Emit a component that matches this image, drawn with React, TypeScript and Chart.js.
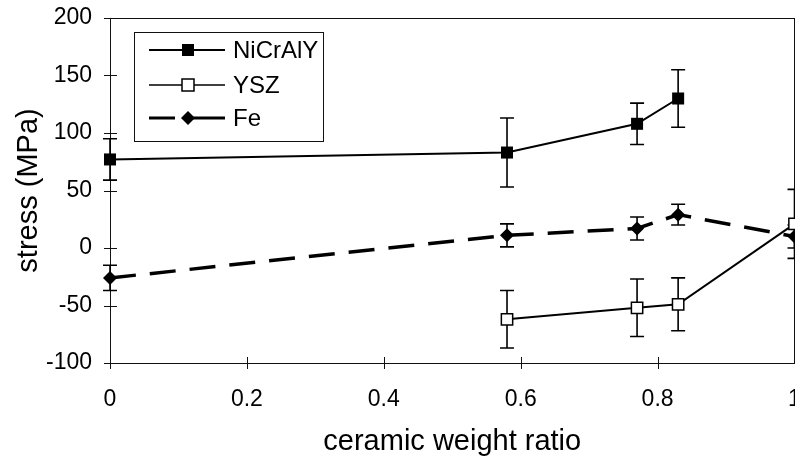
import React, { useEffect, useRef } from "react";
import { Chart, registerables } from "chart.js";

Chart.register(...registerables);

const FONT = "'Liberation Sans', Arial, sans-serif";

// Data
const niX = [0, 0.58, 0.77, 0.83];
const niY = [77, 83, 108, 130];
const niErr = [18, 30, 18, 25];

const yszX = [0.58, 0.77, 0.83, 1.0];
const yszY = [-62, -52, -49, 21];
const yszErr = [25, 25, 23, 30];

const feX = [0, 0.58, 0.77, 0.83, 1.0];
const feY = [-26, 11, 17, 29, 10];
const feErr = [11, 10, 10, 9, 10];

const seriesNames = ["NiCrAlY", "YSZ", "Fe"];
const xTickLabels = ["0", "0.2", "0.4", "0.6", "0.8", "1"];
const xTitle = "ceramic weight ratio";
const yTitle = "stress (MPa)";

const toPts = (xs: number[], ys: number[]) => xs.map((x, i) => ({ x, y: ys[i] }));

const errorBarPlugin = {
  id: "errorBars",
  beforeDatasetsDraw(chart: any) {
    const ctx = chart.ctx;
    const xs = chart.scales.x;
    const ys = chart.scales.y;
    ctx.save();
    ctx.strokeStyle = "#000";
    ctx.lineWidth = 1.6;
    chart.data.datasets.forEach((ds: any) => {
      const errs: number[] = ds.errors || [];
      ds.data.forEach((p: any, i: number) => {
        const e = errs[i];
        if (e == null) return;
        const px = xs.getPixelForValue(p.x);
        const top = ys.getPixelForValue(p.y + e);
        const bot = ys.getPixelForValue(p.y - e);
        ctx.beginPath();
        ctx.moveTo(px, top);
        ctx.lineTo(px, bot);
        ctx.moveTo(px - 7, top);
        ctx.lineTo(px + 7, top);
        ctx.moveTo(px - 7, bot);
        ctx.lineTo(px + 7, bot);
        ctx.stroke();
      });
    });
    ctx.restore();
  },
};

const frameAndLegendPlugin = {
  id: "frameLegend",
  beforeDatasetsDraw(chart: any) {
    const { ctx, chartArea } = chart;
    const xs = chart.scales.x;
    const ys = chart.scales.y;
    ctx.save();
    ctx.strokeStyle = "#111";
    ctx.lineWidth = 1;
    ctx.strokeRect(Math.round(chartArea.left) + 0.5, Math.round(chartArea.top) + 0.5, Math.round(chartArea.right - chartArea.left) - 1, Math.round(chartArea.bottom - chartArea.top));
    ctx.beginPath();
    ys.ticks.forEach((t: any) => {
      const py = Math.round(ys.getPixelForValue(t.value)) + 0.5;
      ctx.moveTo(chartArea.left - 6, py);
      ctx.lineTo(chartArea.left + 7, py);
    });
    xs.ticks.forEach((t: any) => {
      const px = Math.round(xs.getPixelForValue(t.value)) + 0.5;
      ctx.moveTo(px, chartArea.bottom - 6);
      ctx.lineTo(px, chartArea.bottom + 6);
    });
    ctx.stroke();
    ctx.restore();
  },
  afterDraw(chart: any) {
    const ctx = chart.ctx;
    ctx.save();
    // legend box
    const bx = 134, by = 32, bw = 189, bh = 109;
    ctx.fillStyle = "#fff";
    ctx.fillRect(bx, by, bw, bh);
    ctx.strokeStyle = "#111";
    ctx.lineWidth = 1;
    ctx.strokeRect(bx + 0.5, by + 0.5, bw, bh);
    const rows = [50, 85, 118];
    const x0 = 149, x1 = 225, mx = 188;
    ctx.strokeStyle = "#000";
    ctx.fillStyle = "#000";
    // NiCrAlY
    ctx.lineWidth = 2;
    ctx.beginPath();
    ctx.moveTo(x0, rows[0]);
    ctx.lineTo(x1, rows[0]);
    ctx.stroke();
    ctx.fillRect(mx - 6, rows[0] - 6, 12, 12);
    // YSZ
    ctx.lineWidth = 1.6;
    ctx.beginPath();
    ctx.moveTo(x0, rows[1]);
    ctx.lineTo(x1, rows[1]);
    ctx.stroke();
    ctx.fillStyle = "#fff";
    ctx.fillRect(mx - 6, rows[1] - 6, 12, 12);
    ctx.lineWidth = 1.5;
    ctx.strokeRect(mx - 6, rows[1] - 6, 12, 12);
    // Fe
    ctx.fillStyle = "#000";
    ctx.lineWidth = 3;
    ctx.beginPath();
    ctx.moveTo(x0, rows[2]);
    ctx.lineTo(x0 + 26, rows[2]);
    ctx.moveTo(mx - 4, rows[2]);
    ctx.lineTo(x1, rows[2]);
    ctx.stroke();
    ctx.beginPath();
    ctx.moveTo(mx, rows[2] - 7);
    ctx.lineTo(mx + 7, rows[2]);
    ctx.lineTo(mx, rows[2] + 7);
    ctx.lineTo(mx - 7, rows[2]);
    ctx.closePath();
    ctx.fill();
    // text
    ctx.font = `24px ${FONT}`;
    ctx.textBaseline = "middle";
    ctx.textAlign = "left";
    seriesNames.forEach((n, i) => ctx.fillText(n, 233, rows[i] + 1));
    ctx.restore();
  },
};

export default function App() {
  const ref = useRef<HTMLCanvasElement | null>(null);
  useEffect(() => {
    document.body.style.margin = "0";
    const canvas = ref.current!;
    const chart = new Chart(canvas, {
      type: "scatter",
      data: {
        datasets: [
          {
            label: seriesNames[0],
            data: toPts(niX, niY),
            errors: niErr,
            showLine: true,
            clip: false,
            borderColor: "#000",
            backgroundColor: "#000",
            borderWidth: 2,
            pointStyle: "rect",
            pointRadius: 8.5,
            pointBorderWidth: 0,
            pointBackgroundColor: "#000",
          } as any,
          {
            label: seriesNames[1],
            data: toPts(yszX, yszY),
            errors: yszErr,
            showLine: true,
            clip: false,
            borderColor: "#000",
            backgroundColor: "#fff",
            borderWidth: 2,
            pointStyle: "rect",
            pointRadius: 8,
            pointBorderWidth: 1.5,
            pointBorderColor: "#000",
            pointBackgroundColor: "#fff",
          } as any,
          {
            label: seriesNames[2],
            data: toPts(feX, feY),
            errors: feErr,
            showLine: true,
            clip: false,
            borderColor: "#000",
            backgroundColor: "#000",
            borderWidth: 3.5,
            borderDash: [26, 14],
            pointStyle: "rectRot",
            pointRadius: 7,
            pointBorderWidth: 0,
            pointBackgroundColor: "#000",
          } as any,
        ],
      },
      options: {
        animation: false,
        responsive: false,
        layout: { padding: { top: 18, left: 0, right: 0, bottom: 0 } },
        plugins: { legend: { display: false }, tooltip: { enabled: false } },
        scales: {
          x: {
            type: "linear",
            min: 0,
            max: 1,
            grid: { display: false, drawTicks: false },
            border: { display: false },
            ticks: {
              stepSize: 0.2,
              color: "#000",
              font: { family: FONT, size: 23 },
              padding: 23,
              maxRotation: 0,
              callback: (v: any, i: number) => xTickLabels[i] ?? String(v),
            },
            title: { display: true, text: xTitle, color: "#000", font: { family: FONT, size: 29 }, padding: { top: 4, bottom: 7 } },
            afterFit: (s: any) => {
              s.height = 103;
              s.paddingLeft = 0;
              s.paddingRight = 0;
            },
          },
          y: {
            type: "linear",
            min: -100,
            max: 200,
            grid: { display: false, drawTicks: false },
            border: { display: false },
            ticks: { stepSize: 50, color: "#000", font: { family: FONT, size: 23 }, padding: 18 },
            title: { display: true, text: yTitle, color: "#000", font: { family: FONT, size: 29 }, padding: { top: 12, bottom: 4 } },
            afterFit: (s: any) => {
              s.width = 110;
              s.paddingTop = 0;
              s.paddingBottom = 0;
            },
          },
        },
      },
      plugins: [frameAndLegendPlugin, errorBarPlugin],
    } as any);
    return () => chart.destroy();
  }, []);
  return (
    <div style={{ position: "absolute", left: 0, top: 0, width: 795, height: 466, overflow: "hidden", background: "#fff" }}>
      <canvas ref={ref} width={804} height={466} style={{ display: "block", width: 804, height: 466 }} />
    </div>
  );
}
